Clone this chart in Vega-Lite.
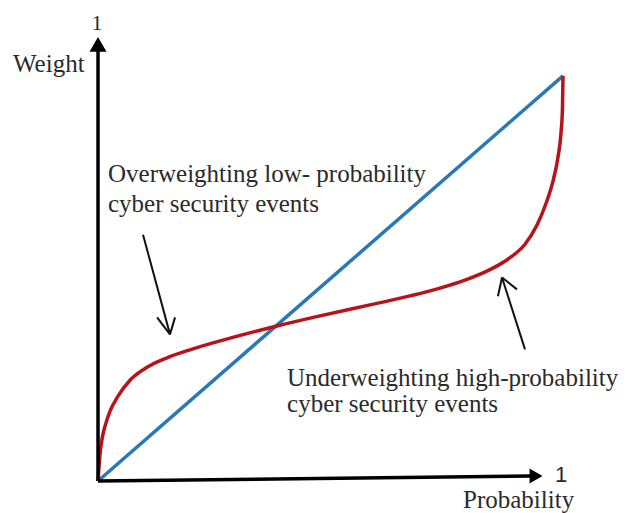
{
  "$schema": "https://vega.github.io/schema/vega-lite/v6.json",
  "width": 630,
  "height": 513,
  "padding": 0,
  "autosize": {"type": "fit", "contains": "padding"},
  "background": "white",
  "config": {"view": {"stroke": null}},
  "datasets": {
    "diag": [{"p": 0, "w": 0}, {"p": 1, "w": 1}],
    "curve": [
      {"p": 0.0, "w": 0.0},
      {"p": 0.0043, "w": 0.0665},
      {"p": 0.0086, "w": 0.1034},
      {"p": 0.0151, "w": 0.1355},
      {"p": 0.0258, "w": 0.1724},
      {"p": 0.043, "w": 0.2094},
      {"p": 0.0688, "w": 0.2488},
      {"p": 0.1054, "w": 0.2808},
      {"p": 0.1484, "w": 0.3042},
      {"p": 0.1978, "w": 0.3239},
      {"p": 0.2839, "w": 0.3527},
      {"p": 0.3806, "w": 0.3815},
      {"p": 0.4774, "w": 0.4076},
      {"p": 0.5849, "w": 0.4347},
      {"p": 0.671, "w": 0.4569},
      {"p": 0.7355, "w": 0.4761},
      {"p": 0.7892, "w": 0.4958},
      {"p": 0.843, "w": 0.5217},
      {"p": 0.886, "w": 0.5512},
      {"p": 0.9183, "w": 0.5845},
      {"p": 0.9441, "w": 0.6318},
      {"p": 0.9634, "w": 0.685},
      {"p": 0.9785, "w": 0.7401},
      {"p": 0.9892, "w": 0.7993},
      {"p": 0.9957, "w": 0.8584},
      {"p": 0.9989, "w": 0.9212},
      {"p": 1.0, "w": 1.0}
    ],
    "axes": [
      {"a": 0, "b": 0, "a2": 0, "b2": 1.064},
      {"a": 0, "b": 0, "a2": 0.929, "b2": 0.0123}
    ],
    "yhead": [{"a": 0, "b": 1.0776}],
    "xhead": [{"a": 0.942, "b": 0.0123}],
    "pointers": [
      {"a": 0.0968, "b": 0.608, "a2": 0.1548, "b2": 0.362},
      {"a": 0.1269, "b": 0.404, "a2": 0.1548, "b2": 0.362},
      {"a": 0.1656, "b": 0.404, "a2": 0.1548, "b2": 0.362},
      {"a": 0.9183, "b": 0.325, "a2": 0.8688, "b2": 0.5025},
      {"a": 0.86, "b": 0.456, "a2": 0.8688, "b2": 0.5025},
      {"a": 0.901, "b": 0.473, "a2": 0.8688, "b2": 0.5025}
    ],
    "notes": [
      {"a": 0.0215, "b": 0.739, "label": "Overweighting low- probability"},
      {"a": 0.0215, "b": 0.665, "label": "cyber security events"},
      {"a": 0.4065, "b": 0.234, "label": "Underweighting high-probability"},
      {"a": 0.4065, "b": 0.17, "label": "cyber security events"},
      {"a": -0.1828, "b": 1.0099, "label": "Weight"},
      {"a": 0.785, "b": -0.066, "label": "Probability"}
    ],
    "topone": [{"a": -0.002, "b": 1.113, "label": "1"}],
    "rightone": [{"a": 0.9828, "b": -0.003, "label": "1"}]
  },
  "layer": [
    {
      "data": {"name": "diag"},
      "mark": {"type": "line", "color": "#2a78b6", "strokeWidth": 3.5},
      "encoding": {
        "x": {"field": "p", "type": "quantitative", "scale": {"domain": [-0.2108, 1.1441], "nice": false, "zero": false}, "axis": null},
        "y": {"field": "w", "type": "quantitative", "scale": {"domain": [-0.0764, 1.1872], "nice": false, "zero": false}, "axis": null}
      }
    },
    {
      "data": {"name": "curve"},
      "mark": {"type": "line", "color": "#b8121b", "strokeWidth": 3.5, "interpolate": "monotone"},
      "encoding": {
        "x": {"field": "p", "type": "quantitative"},
        "y": {"field": "w", "type": "quantitative"}
      }
    },
    {
      "data": {"name": "axes"},
      "mark": {"type": "rule", "color": "#000000", "strokeWidth": 3.5},
      "encoding": {
        "x": {"field": "a", "type": "quantitative"},
        "y": {"field": "b", "type": "quantitative"},
        "x2": {"field": "a2"},
        "y2": {"field": "b2"}
      }
    },
    {
      "data": {"name": "yhead"},
      "mark": {"type": "point", "shape": "triangle-up", "filled": true, "color": "#000000", "size": 289, "opacity": 1},
      "encoding": {
        "x": {"field": "a", "type": "quantitative"},
        "y": {"field": "b", "type": "quantitative"}
      }
    },
    {
      "data": {"name": "xhead"},
      "mark": {"type": "point", "shape": "triangle-right", "filled": true, "color": "#000000", "size": 225, "opacity": 1},
      "encoding": {
        "x": {"field": "a", "type": "quantitative"},
        "y": {"field": "b", "type": "quantitative"}
      }
    },
    {
      "data": {"name": "pointers"},
      "mark": {"type": "rule", "color": "#111111", "strokeWidth": 2},
      "encoding": {
        "x": {"field": "a", "type": "quantitative"},
        "y": {"field": "b", "type": "quantitative"},
        "x2": {"field": "a2"},
        "y2": {"field": "b2"}
      }
    },
    {
      "data": {"name": "notes"},
      "mark": {"type": "text", "align": "left", "baseline": "alphabetic", "font": "Liberation Serif", "fontSize": 25, "color": "#2a2a2a"},
      "encoding": {
        "x": {"field": "a", "type": "quantitative"},
        "y": {"field": "b", "type": "quantitative"},
        "text": {"field": "label"}
      }
    },
    {
      "data": {"name": "topone"},
      "mark": {"type": "text", "align": "center", "baseline": "alphabetic", "font": "Liberation Serif", "fontSize": 22, "color": "#2a2a2a"},
      "encoding": {
        "x": {"field": "a", "type": "quantitative"},
        "y": {"field": "b", "type": "quantitative"},
        "text": {"field": "label"}
      }
    },
    {
      "data": {"name": "rightone"},
      "mark": {"type": "text", "align": "left", "baseline": "alphabetic", "font": "Liberation Sans", "fontSize": 22, "color": "#2a2a2a"},
      "encoding": {
        "x": {"field": "a", "type": "quantitative"},
        "y": {"field": "b", "type": "quantitative"},
        "text": {"field": "label"}
      }
    }
  ]
}
